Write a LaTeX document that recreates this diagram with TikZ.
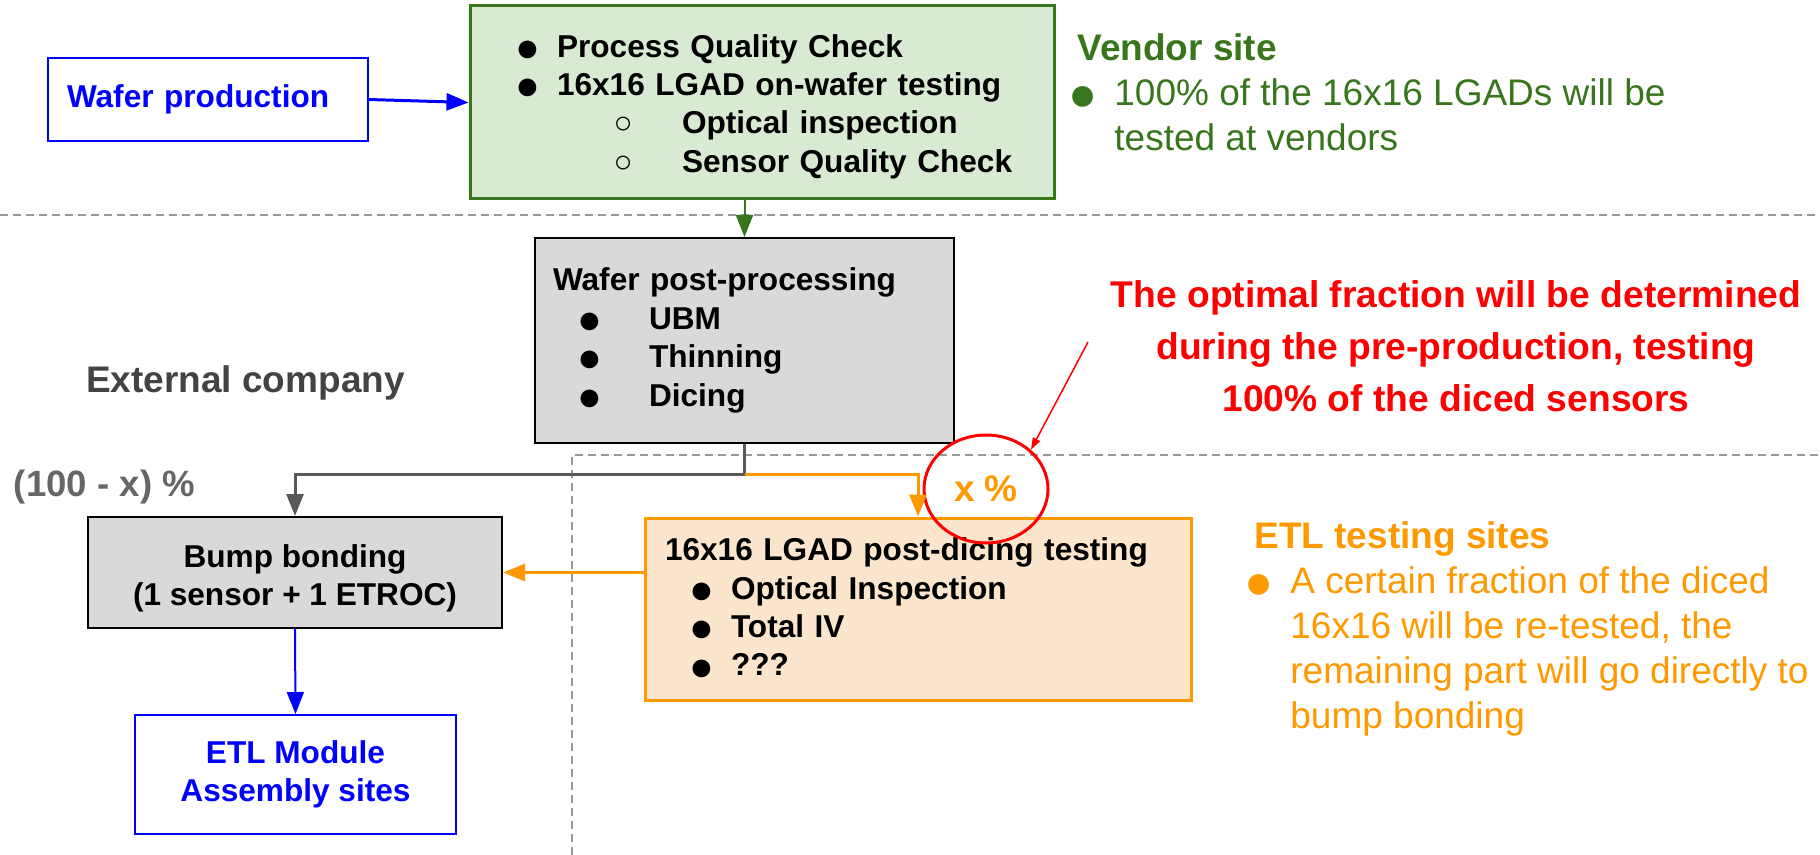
\documentclass[tikz,border=0pt]{standalone}
\usepackage{fontspec}
\setmainfont{Liberation Sans}
\definecolor{vendgreen}{HTML}{38761D}
\definecolor{vendfill}{HTML}{D9EAD3}
\definecolor{extfill}{HTML}{D9D9D9}
\definecolor{extdark}{HTML}{434343}
\definecolor{linegray}{HTML}{595959}
\definecolor{fracgray}{HTML}{666666}
\definecolor{etlorange}{HTML}{FF9900}
\definecolor{etlfill}{HTML}{FCE5CD}
\definecolor{dashgray}{HTML}{999999}
\usetikzlibrary{shapes.geometric,arrows.meta,calc}

\newcommand{\bulsym}{\raisebox{-0.25ex}{\scalebox{1.3}{●}}}
% indent, bullet width, text
\newcommand{\bulitem}[3]{\hspace*{#1}\makebox[#2][l]{\bulsym}#3}
\newcommand{\circitem}[3]{\hspace*{#1}\makebox[#2][l]{\mdseries ○}#3}

\begin{document}
\begin{tikzpicture}[x=0.5pt, y=-0.5pt,
  box/.style={draw, line width=1.5pt, inner ysep=0pt},
  boxtext/.style={font=\fontsize{15.8}{19.2}\selectfont\bfseries},
  note/.style={font=\fontsize{18.5}{22.5}\selectfont, align=left, inner sep=0pt, anchor=west},
  flow/.style={line width=1.5pt, -{Triangle[length=11pt,width=8.5pt]}},
  region/.style={dashgray, line width=1pt, dash pattern=on 4pt off 2.5pt}
]
  \useasboundingbox (0,0) rectangle (1820,855);

  % Site borders
  \draw[region] (0,215) -- (1820,215);
  \draw[region] (572,855) -- (572,455) -- (1820,455);

  % Vendor site
  \node[box, draw=blue, line width=1pt, boxtext, text=blue, align=left,
    text width=141pt, inner xsep=9.5pt, minimum height=41.5pt] (waferbox) at (208,99.5) {Wafer production};
  \node[box, draw=vendgreen, fill=vendfill, boxtext, align=left,
    text width=272pt, inner xsep=10pt, minimum height=96.5pt] (vendbox) at (762,102.5)
    {\rule{0pt}{15.5pt}\bulitem{12.8pt}{20.7pt}{Process Quality Check}\\
     \bulitem{12.8pt}{20.7pt}{16x16 LGAD on-wafer testing}\\
     \circitem{61.75pt}{34.25pt}{Optical inspection}\\
     \circitem{61.75pt}{34.25pt}{Sensor Quality Check}};
  \node[note, text=vendgreen] (vendnote) at (1077,92)
    {{\fontsize{18.5}{23}\selectfont\bfseries Vendor site}\\
     \bulitem{-4.25pt}{22.75pt}{100\% of the 16x16 LGADs will be}\\
     \hspace*{18.5pt}tested at vendors};

  % External company
  \node[box, draw=black, line width=1pt, fill=extfill, boxtext, align=left,
    text width=191.5pt, inner xsep=9pt, minimum height=102.5pt] (postbox) at (744.5,340.5)
    {Wafer post-processing\\
     \bulitem{12.3pt}{35.7pt}{UBM}\\
     \bulitem{12.3pt}{35.7pt}{Thinning}\\
     \bulitem{12.3pt}{35.7pt}{Dicing}};
  \node[font=\fontsize{18.5}{22}\selectfont\bfseries, text=extdark] (extco) at (245.5,383) {External company};
  \node[font=\fontsize{18.3}{22}\selectfont\bfseries, text=fracgray] (restfrac) at (104.5,487) {(100 - x) \%};
  \node[box, draw=black, line width=1pt, fill=extfill, boxtext, align=center,
    minimum width=207pt, minimum height=55.5pt] (bumpbox) at (295,572.5)
    {\rule{0pt}{17.5pt}Bump bonding\\(1 sensor + 1 ETROC)};
  \node[box, draw=blue, line width=1pt, boxtext, text=blue, align=center,
    minimum width=160.5pt, minimum height=59.5pt] (etlbox) at (295.5,774.5)
    {ETL Module\\Assembly sites};

  % ETL testing sites
  \node[box, draw=etlorange, fill=etlfill, boxtext, align=left,
    text width=253pt, inner xsep=10pt, minimum height=91pt] (dicebox) at (918,609)
    {16x16 LGAD post-dicing testing\\
     \bulitem{12.3pt}{20.7pt}{Optical Inspection}\\
     \bulitem{12.3pt}{20.7pt}{Total IV}\\
     \bulitem{12.3pt}{20.7pt}{???}};
  \node[ellipse, draw=red, line width=1.5pt, minimum width=62pt, minimum height=54pt,
    font=\fontsize{18.5}{22}\selectfont\bfseries, text=etlorange] (xcirc) at (986,489) {x \%};
  \node[note, text=etlorange] (etlnote) at (1254,629)
    {{\bfseries ETL testing sites}\\
     \bulitem{-4.75pt}{22.75pt}{A certain fraction of the diced}\\
     \hspace*{18pt}16x16 will be re-tested, the\\
     \hspace*{18pt}remaining part will go directly to\\
     \hspace*{18pt}bump bonding};
  \node[font=\fontsize{18.6}{26}\selectfont\bfseries, text=red, align=center] (rednote) at (1456,346)
    {The optimal fraction will be determined\\
     during the pre-production, testing\\
     100\% of the diced sensors};
  \coordinate (notetail) at (1088,342);

  % Arrows
  \draw[flow, blue] (waferbox.east) -- (vendbox.west);
  \draw[flow, vendgreen, line width=1pt] (postbox.north |- vendbox.south) -- (postbox.north);
  \coordinate (split) at ($(postbox.south)+(0,30)$);
  \draw[linegray, line width=1.5pt] (postbox.south) -- (split);
  \draw[flow, linegray] (split) -| (bumpbox.north);
  \draw[flow, etlorange] (split) -| (dicebox.north);
  \draw[flow, etlorange] (dicebox.west |- bumpbox.east) -- (bumpbox.east);
  \draw[flow, blue, line width=1pt] (bumpbox.south) -- (etlbox.north);
  \draw[red, line width=0.75pt, -{Triangle[length=6pt,width=4pt]}] (notetail) -- (xcirc.north east);
\end{tikzpicture}
\end{document}
